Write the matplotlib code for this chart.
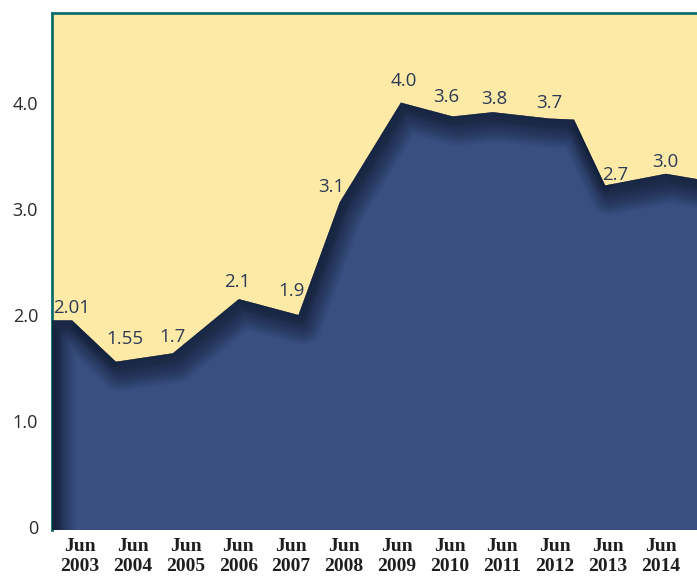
import numpy as np
import matplotlib.pyplot as plt
from matplotlib.transforms import ScaledTranslation

# outline of the area (fractional year, value)
years = [2002.47, 2002.85, 2003.68, 2004.76, 2006.01, 2007.14, 2007.92, 2009.08,
         2010.06, 2010.82, 2011.90, 2012.36, 2012.95, 2014.10, 2014.69]
values = [1.95, 1.95, 1.56, 1.64, 2.15, 2.00, 3.06, 4.00,
          3.87, 3.91, 3.85, 3.84, 3.22, 3.33, 3.28]

# printed labels and the outline point each one sits over
point_labels = ["2.01", "1.55", "1.7", "2.1", "1.9", "3.1", "4.0",
                "3.6", "3.8", "3.7", "2.7", "3.0"]
label_points = [1, 2, 3, 4, 5, 6, 7, 8, 9, 10, 12, 13]
# where each label sits relative to its point, in pixels
label_shift = [(0, 12), (9, 23), (0, 16), (-2, 17), (-7, 24), (-8, 15), (3, 22),
               (-6, 19), (2, 13), (0, 16), (10, 10), (-1, 12)]

tick_years = list(range(2003, 2015))
tick_labels = [f"Jun\n{y}" for y in tick_years]
y_ticks = [0, 1, 2, 3, 4]
y_tick_labels = ["0", "1.0", "2.0", "3.0", "4.0"]

yellow = "#fdeaa6"
navy = "#3a4f80"
teal = "#0d6e6c"
text_col = "#2c3a55"

fig = plt.figure(figsize=(6.97, 5.77), dpi=100)
ax = fig.add_axes([52 / 697, 1 - 530 / 577, 1 - 52 / 697, (530 - 13) / 577])
ax.set_facecolor(yellow)

ymin, ymax = -0.024, 4.844
ax.set_xlim(years[0], years[-1])
ax.set_ylim(ymin, ymax)

xs = [years[0]] + years + [years[-1]]
ys = [ymin] + values + [ymin]
poly = ax.fill(xs, ys, color=navy, lw=0, zorder=2)[0]

# soft inner shadow under the top outline and along the left edge
sx = [years[0]] + years
sy = [ymin] + values
for w in np.linspace(2, 22, 12):
    ln, = ax.plot(sx, sy, color="#10182c", lw=w * 0.72, alpha=0.05,
                  solid_joinstyle="round", zorder=3)
    ln.set_clip_path(poly)
shift = ax.transData + ScaledTranslation(4 / 100, -10 / 100, fig.dpi_scale_trans)
for w in np.linspace(4, 40, 18):
    ln, = ax.plot(sx, sy, color="#10182c", lw=w * 0.72, alpha=0.035,
                  solid_joinstyle="round", zorder=3, transform=shift)
    ln.set_clip_path(poly)

for lab, i, (dx, dy) in zip(point_labels, label_points, label_shift):
    ax.annotate(lab, (years[i], values[i]), xytext=(dx * 0.72, dy * 0.72),
                textcoords="offset points", ha="center", va="center",
                fontsize=13.5, color=text_col, family="Open Sans", zorder=4)

for side in ["right", "bottom"]:
    ax.spines[side].set_visible(False)
for side in ["left", "top"]:
    ax.spines[side].set_color(teal)
    ax.spines[side].set_linewidth(2)

ax.set_yticks(y_ticks)
ax.set_yticklabels(y_tick_labels, fontsize=13, color="#2a2a2a", family="Open Sans")
ax.set_xticks(tick_years)
ax.set_xticklabels(tick_labels, fontsize=14, fontweight="bold", color="#1e1e1e",
                   family="Liberation Serif", linespacing=1.2)
ax.tick_params(axis="y", length=0, pad=10)
ax.tick_params(axis="x", length=0, pad=6)

fig.savefig("out.png", dpi=100)
